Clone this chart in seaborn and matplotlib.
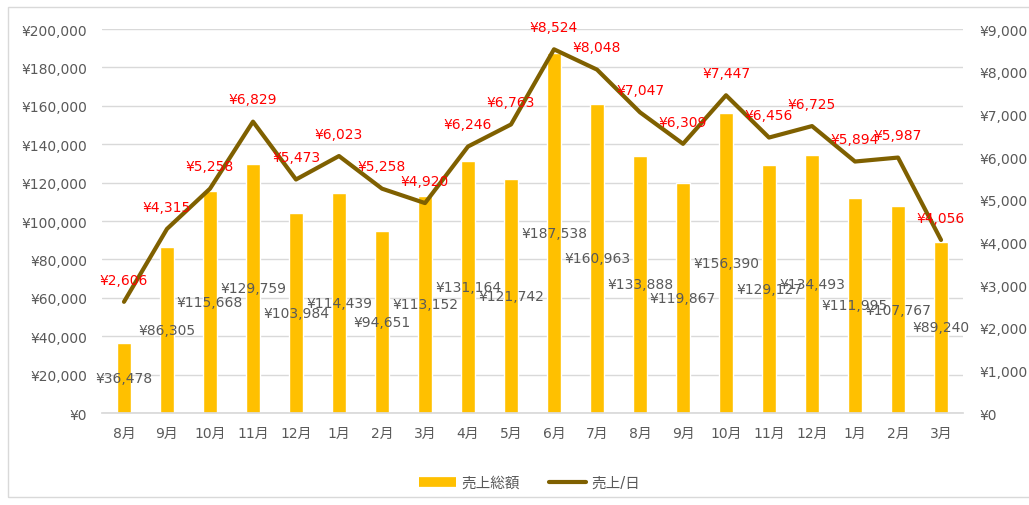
import matplotlib
matplotlib.use("Agg")
import matplotlib.pyplot as plt
import seaborn as sns
import pandas as pd
from matplotlib.patches import Rectangle
from matplotlib.lines import Line2D
from matplotlib.ticker import FuncFormatter, MultipleLocator

months = ["8月", "9月", "10月", "11月", "12月", "1月", "2月", "3月", "4月", "5月",
          "6月", "7月", "8月", "9月", "10月", "11月", "12月", "1月", "2月", "3月"]
total_sales = [36478, 86305, 115668, 129759, 103984, 114439, 94651, 113152, 131164, 121742,
               187538, 160963, 133888, 119867, 156390, 129127, 134493, 111995, 107767, 89240]
daily_sales = [2606, 4315, 5258, 6829, 5473, 6023, 5258, 4920, 6246, 6763,
               8524, 8048, 7047, 6309, 7447, 6456, 6725, 5894, 5987, 4056]

BAR_C = "#FFC000"
LINE_C = "#7F6000"
GRAY = "#595959"
GRID = "#D9D9D9"

sns.set_theme(style="white")
plt.rcParams["font.family"] = ["DejaVu Sans", "Noto Sans CJK JP"]

df = pd.DataFrame({"pos": list(range(len(months))), "month": months,
                   "total": total_sales, "daily": daily_sales})

fig = plt.figure(figsize=(10.29, 5.06), dpi=100)
ax = fig.add_axes([0.0996, 0.1818, 0.8358, 0.7589])

sns.barplot(data=df, x="pos", y="total", color=BAR_C, width=0.33, saturation=1,
            ax=ax, zorder=2)
ax.set_xlim(-0.5, len(months) - 0.5)
ax.set_ylim(0, 200000)
ax.yaxis.set_major_locator(MultipleLocator(20000))
ax.yaxis.set_major_formatter(FuncFormatter(lambda v, p: f"¥{int(v):,}"))
ax.grid(axis="y", color=GRID, linewidth=1, zorder=0)
ax.set_axisbelow(True)
ax.set_xticks(range(len(months)))
ax.set_xticklabels(months)
ax.set_xlabel("")
ax.set_ylabel("")
ax.tick_params(axis="both", length=0, colors=GRAY, labelsize=10)
ax.tick_params(axis="y", pad=11)
ax.tick_params(axis="x", pad=9)
for s in ["top", "left", "right"]:
    ax.spines[s].set_visible(False)
ax.spines["bottom"].set_color(GRID)

ax.bar_label(ax.containers[0], labels=[f"¥{v:,}" for v in total_sales],
             label_type="center", color=GRAY, fontsize=10, zorder=5)

ax2 = ax.twinx()
sns.lineplot(data=df, x="pos", y="daily", color=LINE_C, linewidth=3, ax=ax2, zorder=3)
ax2.set_ylim(0, 9000)
ax2.yaxis.set_major_locator(MultipleLocator(1000))
ax2.yaxis.set_major_formatter(FuncFormatter(lambda v, p: f"¥{int(v):,}"))
ax2.set_ylabel("")
ax2.set_xlabel("")
ax2.tick_params(axis="y", length=0, colors=GRAY, labelsize=10, pad=12)
for s in ["top", "left", "right", "bottom"]:
    ax2.spines[s].set_visible(False)
for x, v in zip(df["pos"], daily_sales):
    ax2.annotate(f"¥{v:,}", (x, v), xytext=(0, 16), textcoords="offset points",
                 ha="center", va="center", color="#FF0000", fontsize=10)

handles = [Line2D([0], [0], color=BAR_C, linewidth=7, solid_capstyle="butt"),
           Line2D([0], [0], color=LINE_C, linewidth=3)]
fig.legend(handles, ["売上総額", "売上/日"], loc="center", bbox_to_anchor=(0.515, 0.045),
           ncol=2, frameon=False, fontsize=10.5, labelcolor=GRAY, handlelength=2.5,
           handletextpad=0.4, columnspacing=2.0)

fig.patches.append(Rectangle((8 / 1029, 8 / 506), 1.02, 1 - 16 / 506,
                             transform=fig.transFigure, fill=False, edgecolor="#D9D9D9",
                             linewidth=1))

fig.savefig("out.png", dpi=100)
